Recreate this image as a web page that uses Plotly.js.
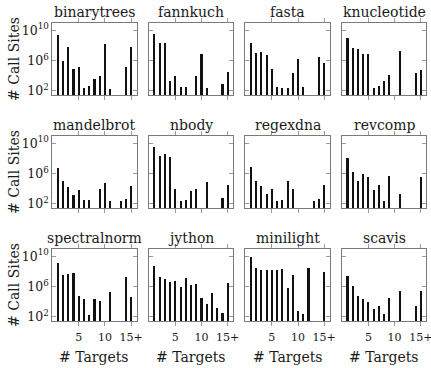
<!DOCTYPE html>
<html>
<head>
<meta charset="utf-8">
<script src="https://cdn.plot.ly/plotly-3.0.1.min.js"></script>
<style>
  html, body { margin: 0; padding: 0; background: #fff; }
  #chart { width: 431px; height: 368px; }
</style>
</head>
<body>
<div id="chart"></div>
<script>
// Number of call sites per number of observed targets, one panel per benchmark.
var targets = [1, 2, 3, 4, 5, 6, 7, 8, 9, 10, 11, 12, 13, 14, 15];
var targetTickVals = [5, 10, 15];
var targetTickText = ['5', '10', '15+'];
var siteTickVals = [1e2, 1e6, 1e10];
var siteTickText = ['10<sup>2</sup>', '10<sup>6</sup>', '10<sup>10</sup>'];

var benchmarks = ['binarytrees', 'fannkuch', 'fasta', 'knucleotide',
                  'mandelbrot', 'nbody', 'regexdna', 'revcomp',
                  'spectralnorm', 'jython', 'minilight', 'scavis'];

var binarytrees  = [2.3e9, 7.4e5, 5.4e7, 8.1e4, 1.6e5, 263, 427, 4170, 9300, 1.55e8, 195, null, null, 1.6e5, 5.4e7];
var fannkuch     = [2.7e9, 2.1e8, 1.95e8, 2100, 7800, 275, 300, null, 9500, 7.9e6, 205, null, null, 680, 2.8e4];
var fasta        = [2.3e8, 1.1e7, 1.26e7, 4.6e6, 6.5e4, 340, 250, 225, 2.4e4, 1.8e6, 300, null, null, 2.5e6, 4.9e5];
var knucleotide  = [7.9e8, 3.8e7, 2.8e7, 6.9e6, 6.9e6, 205, 460, 2100, 1.3e4, null, 1.9e7, null, null, 1.95e4, 4.8e4];
var mandelbrot   = [5.2e6, 1.1e5, 1.6e4, 1480, 7400, 280, 280, null, 7900, 5.0e4, 225, null, 240, 400, 2.2e4];
var nbody        = [2.8e9, 1.9e8, 3.7e8, 1.66e8, 9500, 250, 340, 4300, 9500, null, 6.5e4, null, null, 630, 2.75e4];
var regexdna     = [6.3e6, 9.8e4, 1.95e4, 1700, 9500, 250, 340, 9.3e4, 9500, null, null, null, 250, 500, 2.75e4];
var revcomp      = [1.0e8, 1.7e6, 1.07e5, 7.9e5, 3.3e5, 7100, 2.6e4, 250, 4.9e5, null, 1700, null, null, null, 3.3e5];
var spectralnorm = [1.26e9, 3.2e7, 3.9e7, 6.5e7, 5.0e4, 2.2e4, 160, 2.45e4, 1.07e4, null, 1.66e5, null, null, 2.0e7, 4.7e4];
var jython       = [4.4e8, 2.0e7, 1.0e7, 4.5e6, 5.6e6, 8.9e5, 1.35e7, 1.8e6, 2.2e6, 2.8e4, 5000, 1.6e5, 1400, 316, 3.2e6];
var minilight    = [8.9e9, 2.7e8, 1.6e8, 1.4e8, 1.4e8, 1.4e8, 2.0e8, 5.6e5, 3.5e7, 560, 250, 2.8e8, null, null, 9.3e7];
var scavis       = [2.1e7, 1.0e6, 5.9e4, 1.95e4, 9500, 930, 2600, 205, 3.2e4, null, 2.5e5, null, null, 2600, 2.5e5];

var series = [binarytrees, fannkuch, fasta, knucleotide,
              mandelbrot, nbody, regexdna, revcomp,
              spectralnorm, jython, minilight, scavis];

// Grid geometry (pixels on a 431 x 368 canvas)
var W = 431, H = 368;
var colLeft = [52.3, 148.9, 245.4, 342.0];
var panelW = 84.3;
var rowTop = [22.7, 135.7, 248.7];
var panelH = 72.5;

var serif = '"DejaVu Serif", "Liberation Serif", serif';
var ink = '#1a1a1a';
var frameColor = '#7a7a7a';
var tickColor = '#9a9a9a';

var traces = [];
var layout = {
  width: W, height: H,
  margin: {l: 0, r: 0, t: 0, b: 0},
  paper_bgcolor: '#fff', plot_bgcolor: '#fff',
  showlegend: false,
  bargap: 0,
  font: {family: serif, color: ink, size: 12},
  annotations: []
};

benchmarks.forEach(function (name, i) {
  var row = Math.floor(i / 4), col = i % 4;
  var n = i + 1;
  var xa = 'xaxis' + (n === 1 ? '' : n), ya = 'yaxis' + (n === 1 ? '' : n);
  var xr = 'x' + (n === 1 ? '' : n), yr = 'y' + (n === 1 ? '' : n);

  traces.push({
    type: 'bar', x: targets, y: series[i],
    xaxis: xr, yaxis: yr,
    width: 0.4,
    marker: {color: '#111', line: {width: 0}},
    hoverinfo: 'x+y'
  });

  var x0 = colLeft[col] / W, x1 = (colLeft[col] + panelW) / W;
  var y1 = 1 - rowTop[row] / H, y0 = 1 - (rowTop[row] + panelH) / H;

  layout[xa] = {
    domain: [x0, x1], anchor: yr,
    range: [-0.05, 16.05],
    tickvals: targetTickVals, ticktext: targetTickText,
    showticklabels: row === 2,
    ticklabeloverflow: 'allow',
    ticklabelstandoff: 2,
    ticks: 'outside', ticklen: 4, tickwidth: 1, tickcolor: tickColor,
    showline: true, linecolor: frameColor, linewidth: 1, mirror: 'ticks',
    showgrid: false, zeroline: false, fixedrange: true,
    tickfont: {family: serif, size: 11, color: ink}
  };
  layout[ya] = {
    domain: [y0, y1], anchor: xr,
    type: 'log', range: [1.42, 10.98],
    tickvals: siteTickVals, ticktext: siteTickText,
    showticklabels: col === 0,
    ticklabeloverflow: 'allow',
    ticks: 'inside', ticklen: 4, tickwidth: 1, tickcolor: tickColor,
    showline: true, linecolor: frameColor, linewidth: 1, mirror: 'ticks',
    showgrid: false, zeroline: false, fixedrange: true,
    tickfont: {family: serif, size: 12.5, color: ink}
  };

  // panel title
  layout.annotations.push({
    text: name, xref: 'paper', yref: 'paper',
    x: (x0 + x1) / 2, y: y1, xanchor: 'center', yanchor: 'bottom',
    yshift: 1, showarrow: false,
    font: {family: serif, size: 14, color: ink}
  });

  if (col === 0) {
    layout.annotations.push({
      text: '# Call Sites', xref: 'paper', yref: 'paper',
      x: 14 / W, y: (y0 + y1) / 2, xanchor: 'center', yanchor: 'middle',
      textangle: -90, showarrow: false,
      font: {family: serif, size: 14, color: ink}
    });
  }
  if (row === 2) {
    layout.annotations.push({
      text: '# Targets', xref: 'paper', yref: 'paper',
      x: (x0 + x1) / 2, y: 1 - 357 / H, xanchor: 'center', yanchor: 'middle',
      showarrow: false,
      font: {family: serif, size: 14, color: ink}
    });
  }
});

Plotly.newPlot('chart', traces, layout, {displayModeBar: false, staticPlot: true});
</script>
</body>
</html>
